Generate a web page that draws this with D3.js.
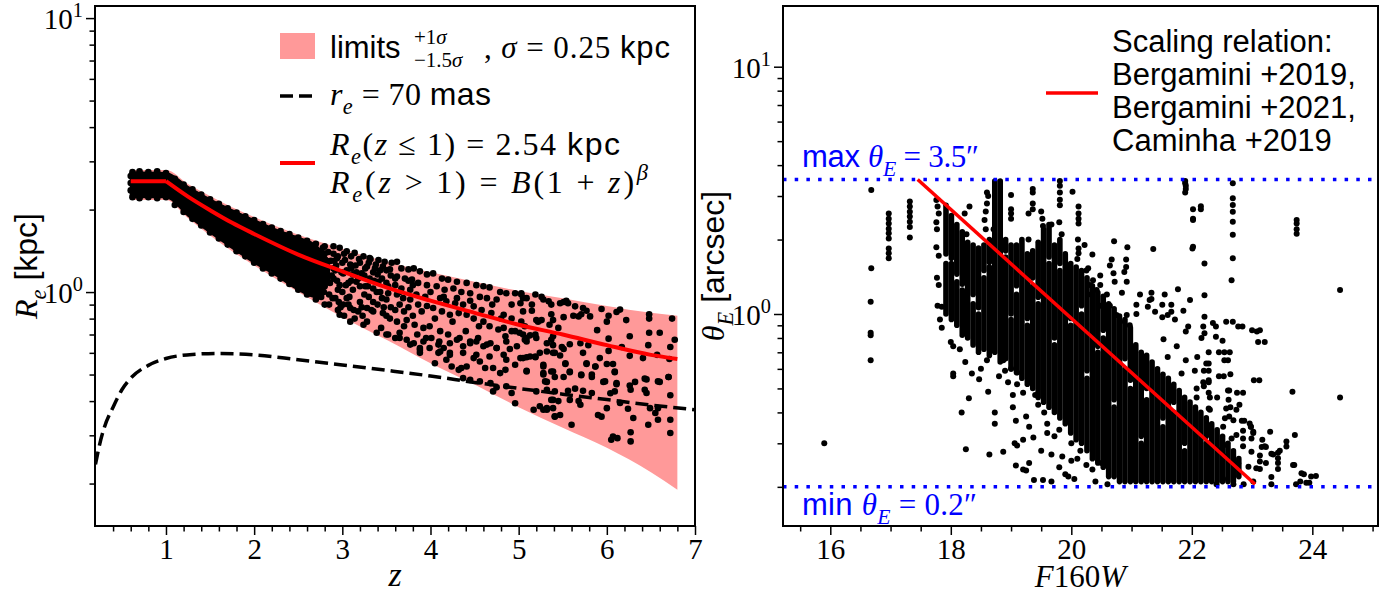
<!DOCTYPE html>
<html>
<head>
<meta charset="utf-8">
<script src="https://cdn.jsdelivr.net/npm/d3@7"></script>
<style>
  body { margin: 0; background: #fff; }
</style>
</head>
<body>
<div id="chart"></div>
<script>
// ---------- left panel: R_e vs z ----------
const bandZ  = [0.6, 1.0, 1.25, 1.5, 1.75, 2.0, 2.5, 3.0, 3.5, 4.0, 4.5, 5.0, 5.5, 6.0, 6.5, 6.8];
const bandHi = [2.79, 2.79, 2.48, 2.24, 2.04, 1.88, 1.62, 1.44, 1.29, 1.18, 1.09, 1.01, 0.95, 0.89, 0.84, 0.82];
const bandLo = [2.17, 2.17, 1.86, 1.61, 1.41, 1.25, 1.0, 0.81, 0.67, 0.55, 0.46, 0.38, 0.32, 0.27, 0.22, 0.19];

const fitZ = [0.6, 1.0, 1.25, 1.5, 1.75, 2.0, 2.5, 3.0, 3.5, 4.0, 4.5, 5.0, 5.5, 6.0, 6.5, 6.8];
const fitR = [2.54, 2.54, 2.23, 1.99, 1.79, 1.63, 1.37, 1.19, 1.04, 0.93, 0.84, 0.76, 0.70, 0.64, 0.59, 0.57];

const masZ = [0.2, 0.25, 0.3, 0.4, 0.5, 0.6, 0.8, 1.0, 1.3, 1.6, 2.0, 2.5, 3.0, 3.5, 4.0, 4.5, 5.0, 5.5, 6.0, 6.5, 7.0];
const masR = [0.235, 0.28, 0.32, 0.38, 0.44, 0.485, 0.54, 0.572, 0.592, 0.597, 0.59, 0.566, 0.542, 0.518, 0.494, 0.468, 0.445, 0.424, 0.405, 0.387, 0.372];

// the solid black bulk of the sample at low z
const coreZ  = [0.6, 1.0, 1.25, 1.5, 1.75, 2.0, 2.25, 2.5, 2.7, 2.85];
const coreHi = [2.74, 2.72, 2.42, 2.18, 1.99, 1.83, 1.69, 1.58, 1.48, 1.3];
const coreLo = [2.22, 2.22, 1.90, 1.65, 1.45, 1.28, 1.15, 1.02, 0.96, 1.1];

const galaxiesZ = [
  [0.6,2.35],[0.6,2.5],[0.6,2.65],[0.62,2.74],[0.7,2.76],[0.8,2.74],[0.9,2.76],[1.0,2.72],[1.1,2.59],[1.2,2.47],[1.3,2.37],[1.4,2.27],
  [1.5,2.18],[1.6,2.1],[1.7,2.02],[1.8,1.95],[1.9,1.89],[2.0,1.83],[2.1,1.77],[2.2,1.72],[2.3,1.67],[2.4,1.63],[2.5,1.58],[2.6,1.54],[2.7,1.5],[2.8,1.47],
  [0.62,2.22],[0.7,2.2],[0.8,2.22],[0.9,2.2],[1.0,2.22],[1.1,2.08],[1.2,1.96],[1.3,1.85],[1.4,1.75],[1.5,1.65],[1.6,1.57],[1.7,1.49],[1.8,1.41],
  [1.9,1.35],[2.0,1.28],[2.1,1.22],[2.2,1.17],[2.3,1.12],[2.4,1.07],[2.5,1.02],[2.6,0.98],[2.7,0.94],[2.8,0.9],
  [2.72,1.1],[2.74,1.3],[2.76,0.96],[2.8,1.38],[2.83,1.12],[2.87,1.3],[2.72,1.22],[2.78,1.45],
  [2.65,1.25],[2.68,1.4],[2.7,1.05],[2.73,1.35],[2.77,1.15],[2.79,1.0],[2.81,1.22],[2.84,1.4],[2.86,1.08],[2.89,0.95],[2.91,1.3],[2.94,1.1],
  [2.96,0.92],[2.99,1.18],[3.02,1.38],[3.04,1.06],[3.07,0.9],[3.1,1.22],[3.13,0.86],[3.16,1.18],[3.19,1.32],[3.23,0.82],[3.26,1.22],[3.29,1.05],
  [3.33,0.86],[3.36,1.1],[3.39,1.0],[3.43,1.2],[3.47,0.88],[3.52,1.05],
  [2.75,1.4],[2.78,1.2],[2.8,1.05],[2.82,1.3],[2.85,0.98],[2.88,1.15],[2.9,1.38],[2.93,1.25],[2.95,1.02],[2.98,0.88],[2.85,0.9],[2.9,1.22],
  [3.0,1.0],[3.05,0.95],[3.1,1.35],[3.12,1.02],[3.2,0.92],[3.18,1.12],[3.25,0.98],[3.3,1.28],[3.35,0.92],[3.4,1.16],[3.45,0.95],[3.5,1.2],
  [3.55,0.88],[3.6,1.12],[3.65,0.9],[3.7,0.85],[3.75,1.1],[3.8,0.82],
  [2.92,1.2],[2.95,1.35],[3.0,1.28],[3.05,1.2],[3.1,1.1],[3.15,1.25],[3.2,1.05],[3.25,1.15],[3.3,0.96],[3.35,1.18],[3.4,0.9],[3.45,1.12],
  [3.5,0.94],[3.55,1.15],[3.6,0.86],[3.65,1.0],[3.7,0.75],[3.75,0.88],[3.8,1.06],[3.85,0.7],[3.9,0.85],[3.95,0.68],[4.0,1.0],[4.05,0.8],
  [4.1,0.66],[4.15,0.96],[4.25,0.78],[4.3,0.95],[4.4,0.72],[4.45,0.93],[4.55,0.75],[4.7,0.9],[4.8,0.8],[4.9,0.62],[2.95,0.86],[3.02,0.82],
  [3.08,0.96],[3.14,0.8],[3.22,0.88],[3.28,0.78],[3.32,1.32],[3.38,1.26],[3.44,0.74],[3.5,0.82],
  [2.9,1.47],[2.97,1.45],[3.05,1.41],[3.14,1.39],[3.24,1.35],[3.31,1.33],[3.41,1.31],[3.48,1.29],[3.56,1.28],[3.62,1.29],[3.67,1.22],[3.75,1.21],
  [3.81,1.22],[3.88,1.19],[3.96,1.16],[4.03,1.17],[4.13,1.12],[4.2,1.11],[4.3,1.09],[4.41,1.08],[4.52,1.06],[4.6,1.05],[4.67,1.04],[4.79,1.0],
  [4.86,0.99],[4.96,0.99],[5.03,0.98],[5.09,0.95],
  [2.94,1.33],[3.03,1.31],[3.09,1.26],[3.2,1.28],[3.28,1.24],[3.37,1.22],[3.46,1.24],[3.54,1.21],[3.62,1.14],[3.71,1.12],[3.79,1.11],[3.86,1.08],
  [3.96,1.06],[4.07,1.05],[4.16,1.02],[4.26,1.03],[4.35,1.0],[4.45,0.99],[4.56,0.96],[4.64,0.95],[4.75,0.94],[4.92,0.9],[5.02,0.91],
  [2.9,1.12],[2.97,1.06],[3.07,1.08],[3.16,1.09],[3.26,1.05],[3.35,1.03],[3.43,1.0],[3.52,0.99],[3.62,0.98],[3.69,0.95],[3.77,0.94],[3.86,0.9],
  [3.96,0.89],[4.03,0.875],[4.13,0.85],[4.22,0.826],[4.32,0.838],[4.41,0.826],[4.49,0.8],[4.6,0.78],[4.67,0.75],[4.77,0.73],[4.83,0.74],
  [4.96,0.72],[5.05,0.7],
  [2.92,0.95],[3.01,0.9],[3.09,0.875],[3.18,0.85],[3.28,0.875],[3.35,0.85],[3.46,0.838],[3.54,0.8],[3.62,0.78],[3.73,0.79],[3.82,0.76],
  [3.92,0.74],[3.99,0.75],[4.11,0.72],[4.2,0.7],[4.33,0.68],[4.45,0.66],[4.54,0.68],[4.64,0.643],[4.75,0.625],[4.86,0.66],[4.98,0.634],[5.09,0.68],
  [2.97,0.826],[3.09,0.78],[3.24,0.76],[3.39,0.71],[3.52,0.7],[3.65,0.68],[3.77,0.643],[3.88,0.615],[3.99,0.625],[4.11,0.607],[4.22,0.59],
  [4.37,0.6],[4.52,0.59],[4.67,0.582],[4.83,0.59],
  [3.01,1.17],[3.12,1.16],[3.22,1.17],[3.31,1.12],[3.41,1.09],[3.5,1.08],[3.6,1.06],[3.67,1.03],[3.77,1.02],[3.84,0.98],[3.94,0.96],[4.11,0.95],
  [4.18,0.925],[4.28,0.91],[4.37,0.9],[4.49,0.887],[4.58,0.86],[4.69,0.838],[4.83,0.826],[4.92,0.8],[5.03,0.78],
  [3.5,0.7],[3.6,0.68],[3.65,0.71],[3.73,0.67],[3.81,0.65],[3.88,0.625],[3.92,0.66],[4.01,0.68],[4.09,0.643],[4.15,0.625],[4.22,0.65],[4.3,0.67],
  [4.37,0.634],[4.45,0.65],[4.52,0.66],[4.6,0.634],[4.68,0.65],[4.75,0.625],[4.85,0.69],[4.92,0.72],[5.01,0.71],[5.09,0.66],[5.2,0.68],[5.32,0.65],
  [5.39,0.69],[3.88,0.6],[4.09,0.6],[4.22,0.6],[4.05,0.55],[4.18,0.566],[4.24,0.535],[4.35,0.528],[4.32,0.52],[4.41,0.535],[4.49,0.574],
  [4.56,0.558],[4.62,0.528],[4.71,0.528],[4.79,0.506],[4.85,0.52],[4.86,0.566],[4.96,0.543],[5.09,0.513],[5.05,0.574],[5.19,0.582],[5.28,0.535],
  [5.37,0.513],[5.41,0.6],[4.37,0.485],[4.45,0.478],[4.56,0.472],[4.68,0.465],[4.75,0.449],[4.86,0.453],[4.92,0.428],[4.71,0.434],[4.96,0.393],
  [5.2,0.434],[5.17,0.372],[5.24,0.383],[5.32,0.372],[5.39,0.377],[5.37,0.404],[5.41,0.352],
  [5.03,0.99],[5.05,0.95],[5.19,0.98],[5.26,0.96],[5.28,0.94],[5.34,0.925],[5.37,0.9],[5.47,0.91],[5.51,0.92],[5.54,0.93],[5.56,0.91],[5.64,0.887],
  [5.73,0.875],[5.77,0.855],[5.71,0.83],[5.68,0.815],[5.62,0.82],[5.81,0.815],[5.94,0.867],[6.02,0.82],[6.11,0.846],[6.15,0.863],[6.22,0.79],
  [6.48,0.83],[6.48,0.8],[6.74,0.8],[5.15,0.9],[5.15,0.855],[5.05,0.85],[5.2,0.79],[5.26,0.79],[5.37,0.83],[5.39,0.79],[5.51,0.81],[5.45,0.74],
  [5.35,0.76],[5.89,0.726],[6.0,0.78],[6.02,0.676],[6.26,0.69],[6.48,0.71],[6.6,0.71],[6.77,0.67],[6.72,0.63],[6.47,0.64],[6.17,0.63],[5.79,0.64],
  [5.7,0.65],[5.58,0.645],[5.49,0.63],[5.51,0.62],[5.39,0.64],[5.37,0.67],[5.13,0.695],[5.07,0.67],[5.19,0.7],[5.07,0.75],[5.22,0.78],
  [5.02,0.574],[5.09,0.578],[5.13,0.582],[5.19,0.578],[5.24,0.6],[5.32,0.607],[5.39,0.6],[5.47,0.587],[5.73,0.6],[5.92,0.574],[5.77,0.546],
  [5.87,0.535],[6.0,0.546],[6.07,0.546],[6.09,0.51],[6.02,0.61],[6.26,0.585],[6.41,0.574],[6.57,0.59],[6.71,0.57],[5.53,0.546],[5.28,0.543],
  [5.28,0.5],[5.09,0.516],[5.39,0.513],[5.41,0.49],[5.58,0.51],[5.71,0.497],[5.83,0.49],[5.96,0.47],[6.11,0.465],[6.32,0.47],[6.45,0.48],
  [6.6,0.47],[6.7,0.49],[5.32,0.47],
  [5.28,0.506],[5.53,0.55],[5.51,0.49],[5.58,0.513],[5.71,0.5],[5.77,0.55],[5.83,0.5],[5.87,0.535],[6.09,0.513],[5.98,0.472],[6.11,0.461],
  [6.09,0.434],[6.04,0.427],[6.26,0.456],[6.27,0.44],[6.43,0.483],[6.58,0.472],[6.7,0.49],[6.43,0.44],[6.45,0.428],[6.72,0.42],[5.3,0.472],
  [5.32,0.44],[5.41,0.434],[5.56,0.436],[5.64,0.444],[5.73,0.436],[5.83,0.428],[5.39,0.404],[5.45,0.4],[5.58,0.404],[5.68,0.4],[5.7,0.388],
  [5.32,0.377],[5.28,0.372],[5.41,0.351],[5.47,0.356],[5.6,0.328],[5.9,0.356],[5.94,0.351],[6.0,0.377],[6.15,0.394],[6.24,0.375],[6.3,0.347],
  [6.49,0.377],[6.58,0.377],[6.55,0.362],[6.58,0.342],[6.47,0.328],[6.72,0.342],[6.72,0.306],[6.07,0.297],[6.05,0.289],[6.12,0.293],
  [6.27,0.308],[6.27,0.285]
];

// ---------- right panel: theta_E vs F160W ----------
const scaleMag = [17.45, 23.05];
const scaleTheta = [3.5, 0.205];
const thetaMax = 3.5;
const thetaMin = 0.2;

// dense vertical stacks of the bulk population: [mag, theta low, theta high]
const bulkStacks = [
  [17.92,1.0,1.6],[17.92,1.75,2.75],[18.01,0.95,1.6],[18.01,1.68,2.5],[18.1,0.9,1.35],[18.1,1.45,2.3],[18.19,0.82,1.25],
  [18.19,1.32,2.15],[18.28,0.8,1.95],[18.37,0.75,1.1],[18.37,1.2,1.9],[18.46,0.7,1.0],[18.46,1.06,1.85],[18.55,0.72,1.4],
  [18.55,1.5,1.9],[18.64,0.68,1.55],[18.64,1.62,2.0],[18.73,0.7,3.45],[18.82,0.64,3.45],[18.91,0.66,1.7],[18.91,1.8,2.0],
  [19.0,0.6,0.95],[19.0,1.0,1.9],[19.09,0.58,1.2],[19.09,1.3,1.9],[19.18,0.55,2.0],[19.27,0.52,0.9],[19.27,0.96,1.75],
  [19.36,0.5,1.3],[19.36,1.4,1.8],[19.45,0.46,1.1],[19.45,1.17,1.95],[19.54,0.44,2.2],[19.63,0.42,1.6],[19.63,1.7,2.3],
  [19.72,0.4,0.75],[19.72,0.8,1.9],[19.81,0.38,1.5],[19.81,1.6,2.0],[19.9,0.36,1.75],[19.99,0.33,0.9],[19.99,0.96,1.6],
  [20.08,0.31,1.55],[20.17,0.3,1.0],[20.17,1.08,1.5],[20.26,0.28,0.55],[20.26,0.59,1.4],[20.35,0.26,1.3],[20.44,0.25,0.7],
  [20.44,0.74,1.22],[20.53,0.24,0.8],[20.53,0.86,1.18],[20.62,0.22,1.1],[20.71,0.22,0.42],[20.71,0.45,1.05],[20.8,0.21,0.98],
  [20.89,0.21,0.6],[20.89,0.66,0.95],[20.98,0.21,0.5],[20.98,0.54,0.88],[21.07,0.21,0.75],[21.16,0.21,0.3],[21.16,0.32,0.7],
  [21.25,0.21,0.45],[21.25,0.5,0.68],[21.34,0.21,0.64],[21.43,0.21,0.6],[21.52,0.21,0.35],[21.52,0.38,0.57],[21.61,0.21,0.55],
  [21.7,0.21,0.4],[21.7,0.44,0.52],[21.79,0.21,0.49],[21.88,0.21,0.28],[21.88,0.3,0.46],[21.97,0.21,0.44],[22.06,0.21,0.42],
  [22.15,0.21,0.4],[22.24,0.21,0.3],[22.24,0.32,0.38],[22.33,0.21,0.36],[22.42,0.21,0.34],[22.51,0.21,0.32],[22.6,0.21,0.3],
  [22.69,0.21,0.28],[22.78,0.22,0.26]
];

const galaxiesMag = [
  [15.9,0.3],[16.68,3.17],[16.68,1.53],[16.67,1.12],[16.67,0.84],[16.67,0.82],[16.67,0.65],
  [16.97,2.55],[16.97,2.43],[16.97,2.32],[16.97,2.21],[16.97,2.12],[16.97,2.02],[16.97,1.84],[16.97,1.76],[16.97,1.68],
  [17.32,2.85],[17.32,2.72],[17.32,2.59],[17.32,2.48],[17.32,2.36],[17.32,2.25],[17.32,2.04],
  [17.76,2.89],[17.78,2.72],[17.8,2.55],[17.76,2.35],[17.77,2.2],[17.76,1.86],[17.8,1.72],[17.77,1.4],[17.8,1.31],[17.78,1.08],
  [17.85,1.07],[17.82,0.95],[17.85,0.88],
  [18.6,3.1],[18.6,2.8],[18.62,3.0],[18.58,2.6],[18.56,2.4],[18.58,2.2],[18.71,2.2],[18.23,2.55],[18.31,2.72],[18.26,2.1],
  [19.0,3.03],[19.0,2.65],[19.0,2.55],[19.0,2.43],[19.36,3.2],[19.36,3.1],[19.36,2.8],[19.36,2.65],[19.29,2.55],[19.29,2.0],
  [19.5,2.6],[19.52,2.43],[19.53,2.27],[19.67,2.3],[19.81,3.45],[19.81,3.3],[19.81,3.1],[19.81,2.9],[19.81,2.75],[19.8,2.35],[19.84,2.1],
  [20.02,3.12],[20.12,2.72],[20.12,2.55],[20.12,2.43],[20.12,2.32],[20.11,2.0],[20.12,1.84],[20.12,1.76],[20.1,1.67],
  [20.22,1.9],[20.25,1.5],[20.35,1.74],
  [21.89,3.45],[21.89,3.38],[21.9,3.3],[21.9,3.2],[21.89,3.1],[22.02,2.65],[22.02,2.43],[22.02,1.87],[22.15,2.73],[22.15,2.65],
  [22.21,1.6],[22.21,1.19],[21.36,1.83],[20.71,1.97],[20.93,1.86],
  [21.77,1.26],[21.55,1.2],[21.33,1.22],[21.33,1.15],[21.14,1.2],[21.86,1.03],[21.66,1.02],[21.51,1.09],[21.51,0.97],[21.94,0.89],
  [22.19,0.89],[21.08,1.09],[21.08,1.0],[21.3,1.14],[21.66,1.09],[21.97,1.14],
  [20.91,1.66],[20.91,1.55],[20.88,1.48],[20.92,1.35],[20.84,1.22],[20.67,1.66],[20.64,1.57],[20.7,1.46],[20.72,1.35],
  [20.28,1.53],[20.48,1.43],[20.36,1.37],[20.31,1.31],[20.48,1.31],[20.42,1.25],[20.28,1.2],[20.48,1.08],[20.59,1.2],[20.64,1.08],
  [20.75,0.99],[20.56,1.02],[20.81,0.93],[20.92,0.99],[20.97,0.9],
  [22.68,3.38],[22.68,2.94],[22.68,2.76],[22.68,2.59],[22.68,2.36],[22.68,2.09],[22.68,1.68],[22.66,1.37],[22.68,0.93],
  [22.02,2.4],[22.01,1.84],[23.74,2.4],[23.74,2.32],[23.74,2.2],[23.74,2.11],
  [24.46,1.25],[24.46,0.46],[23.67,0.485],[23.71,0.324],[23.57,0.305],[23.57,0.291],[23.82,0.227],[24.06,0.221],[23.9,0.208],
  [23.95,0.208],[23.73,0.205],[23.7,0.245],[23.43,0.275],[23.43,0.261],[23.43,0.25],[23.43,0.236],[23.32,0.272],[23.32,0.219],
  [23.21,0.292],[23.3,0.334],[23.13,0.268],[23.13,0.236],[23.32,0.205],[23.12,0.54],[23.13,0.86],[23.08,0.85],[23.21,0.77],
  [22.84,0.89],[22.4,0.89],[22.4,0.81],[22.21,0.975],[22.21,0.835],[22.51,0.78],[22.54,0.7],[22.54,0.65],[22.63,0.7],[22.28,0.7],
  [22.28,0.63],[22.09,0.67],[22.53,0.56],[22.64,0.57],[22.28,0.59],[22.28,0.54],[22.28,0.53],[22.28,0.48],[22.28,0.415],[22.19,0.53],
  [22.08,0.5],[22.08,0.46],[22.85,0.48],[22.62,0.49],[22.61,0.45],[22.57,0.415],[22.79,0.43],[22.74,0.41],[22.3,0.46],[22.3,0.41],
  [22.55,0.379],[22.69,0.372],[22.83,0.37],[22.96,0.361],[22.98,0.35],[23.02,0.334],[22.85,0.337],[22.85,0.314],[22.99,0.314],
  [22.85,0.292],[22.99,0.277],[23.13,0.253],[23.07,0.238],[22.94,0.241],[22.77,0.249],[22.55,0.265],[22.49,0.282],[22.58,0.295],
  [22.66,0.314],[22.52,0.35],[22.62,0.385],[22.74,0.324],[22.52,0.215],[22.69,0.205],[22.86,0.205],[23.02,0.21],[22.41,0.205],[23.16,0.29],
  [22.35,0.92],[22.57,0.93],[22.77,0.89],[23.0,0.86],[23.1,0.77],[23.03,0.54],[22.45,0.7],[22.6,0.65],[22.45,0.56],[22.6,0.49],
  [22.75,0.48],[22.24,0.63],[22.2,0.59],[21.9,0.65],[22.05,0.59],[22.16,0.8],[21.9,0.85],[21.72,0.95],[21.6,0.99],[21.39,1.02],
  [21.27,1.07],[21.75,0.74],[21.53,0.79],[21.83,0.575],[21.6,0.67],[22.2,0.51],[22.42,0.46],[22.64,0.42],[22.87,0.37],[22.98,0.35],
  [23.02,0.33],[23.17,0.31],[23.23,0.29],[23.35,0.27],[23.46,0.28],[23.23,0.25],[23.68,0.245],[23.86,0.225],[23.98,0.22],[23.8,0.21],
  [18.04,0.575],[18.04,0.56],[18.18,0.4],[18.25,0.284],[18.3,0.456],[18.47,0.545],[18.24,0.64],[18.64,0.27],[18.73,0.4],[18.73,0.36],
  [18.62,0.485],[18.87,0.277],[19.03,0.42],[19.08,0.37],[19.08,0.244],[19.2,0.235],[19.3,0.25],[19.25,0.233],[19.38,0.213],
  [19.53,0.213],[19.67,0.21],[19.1,0.294],[19.2,0.31],[19.06,0.3],[19.25,0.385],[19.3,0.35],[19.37,0.317],[19.03,0.47],[19.2,0.48],
  [19.1,0.52],[19.1,0.58],[19.0,0.6],[18.9,0.59],[18.95,0.53],[18.8,0.56],[18.87,0.65],[18.6,0.65],[18.5,0.6],[18.35,0.575],
  [18.0,0.77],[18.15,0.72],[18.04,0.74],[19.5,0.28],[19.67,0.27],[19.85,0.265],[20.0,0.255],[20.1,0.26],[20.25,0.245],[19.8,0.24],
  [19.95,0.22],[20.35,0.235],[20.5,0.25],[19.9,0.225],[20.05,0.215],[20.4,0.21],[20.6,0.205],[19.72,0.32],[19.6,0.36],[19.55,0.4],
  [19.45,0.43],[19.8,0.34],[20.0,0.3],[20.15,0.28],[19.4,0.47],[19.6,0.33]
];

// tick values
const zTicks = [1, 2, 3, 4, 5, 6, 7];
const zMinor = [0.4, 0.6, 0.8, 1.2, 1.4, 1.6, 1.8, 2.2, 2.4, 2.6, 2.8, 3.2, 3.4, 3.6, 3.8, 4.2, 4.4, 4.6, 4.8,
                5.2, 5.4, 5.6, 5.8, 6.2, 6.4, 6.6, 6.8];
const magTicks = [16, 18, 20, 22, 24];
const magMinor = [15.5, 16.5, 17, 17.5, 18.5, 19, 19.5, 20.5, 21, 21.5, 22.5, 23, 23.5, 24.5, 25];
const logMajor = [1, 10];
const logMinor = [0.2, 0.3, 0.4, 0.5, 0.6, 0.7, 0.8, 0.9, 2, 3, 4, 5, 6, 7, 8, 9];

const SANS = "'Liberation Sans', Arial, sans-serif";
const SERIF = "'Liberation Serif', 'Times New Roman', serif";

const width = 1400, height = 595;
const svg = d3.select('#chart').append('svg')
  .attr('width', width)
  .attr('height', height)
  .style('display', 'block');

// math-like text built from tspans: S sans, R roman, I italic, ..b subscript, ..p superscript
function rich(g, x, y, parts, size, opts = {}) {
  const t = g.append('text').attr('x', x).attr('y', y).style('font-size', size + 'px');
  let cur = 0;
  parts.forEach(([s, k]) => {
    const sp = t.append('tspan').text(s);
    sp.style('font-family', k === 'S' ? SANS : SERIF);
    if (k.startsWith('I')) sp.style('font-style', 'italic');
    let shift = 0, fs = size;
    if (k.endsWith('b')) { shift = size * 0.28; fs = size * 0.7; }
    if (k.endsWith('p')) { shift = -size * 0.42; fs = size * 0.7; }
    sp.style('font-size', fs + 'px');
    if (shift !== cur) { sp.attr('dy', shift - cur); cur = shift; }
  });
  if (opts.len) t.attr('textLength', opts.len).attr('lengthAdjust', 'spacing');
  if (opts.anchor) t.attr('text-anchor', opts.anchor);
  t.attr('fill', opts.fill || '#000');
  return t;
}

function drawAxes(g, box, x, y, xMajor, xMinor) {
  const yMinor = logMinor.filter(v => v >= y.domain()[0] && v <= y.domain()[1]);
  g.append('g').attr('transform', `translate(0,${box.bottom})`)
    .call(d3.axisBottom(x).tickValues(xMinor).tickSize(5.5).tickFormat(''));
  const bx = g.append('g').attr('transform', `translate(0,${box.bottom})`)
    .call(d3.axisBottom(x).tickValues(xMajor).tickSize(9).tickPadding(3).tickFormat(d3.format('d')));
  bx.attr('font-family', SERIF).attr('font-size', 29);
  g.append('g').attr('transform', `translate(${box.left},0)`)
    .call(d3.axisLeft(y).tickValues(yMinor).tickSize(5.5).tickFormat(''));
  g.append('g').attr('transform', `translate(${box.left},0)`)
    .call(d3.axisLeft(y).tickValues(logMajor).tickSize(9).tickFormat(''));
  g.selectAll('.domain').remove();
  g.selectAll('.tick line').attr('stroke', '#000').attr('stroke-width', 1.5);
  bx.selectAll('text').style('font-family', SERIF).style('font-size', '29px').attr('fill', '#000');
  logMajor.forEach((v, i) => {
    rich(g, box.left - 12, y(v) + 11, [['10', 'R'], [String(i), 'Rp']], 29, { anchor: 'end' });
  });
  g.append('rect')
    .attr('x', box.left).attr('y', box.top)
    .attr('width', box.right - box.left).attr('height', box.bottom - box.top)
    .attr('fill', 'none').attr('stroke', '#000').attr('stroke-width', 2);
}

// ================= left =================
const L = { left: 95, right: 695, top: 6, bottom: 526 };
const xL = d3.scaleLinear().domain([0.195, 7]).range([L.left, L.right]);
const yL = d3.scaleLog().domain([0.14, 11.07]).range([L.bottom, L.top]);

const defs = svg.append('defs');
const gL = svg.append('g');
defs.append('clipPath').attr('id', 'clipL')
  .append('rect').attr('x', L.left).attr('y', L.top).attr('width', L.right - L.left).attr('height', L.bottom - L.top);
const plotL = gL.append('g').attr('clip-path', 'url(#clipL)');

plotL.append('path')
  .datum(bandZ.map((z, i) => [z, bandLo[i], bandHi[i]]))
  .attr('fill', '#ff9999')
  .attr('d', d3.area().x(d => xL(d[0])).y0(d => yL(d[1])).y1(d => yL(d[2])).curve(d3.curveMonotoneX));

plotL.append('path')
  .datum(coreZ.map((z, i) => [z, coreLo[i], coreHi[i]]))
  .attr('fill', '#000').attr('stroke', '#000').attr('stroke-width', 2).attr('stroke-linejoin', 'round')
  .attr('d', d3.area().x(d => xL(d[0])).y0(d => yL(d[1])).y1(d => yL(d[2])).curve(d3.curveMonotoneX));

plotL.selectAll('.dot')
  .data(galaxiesZ)
  .enter()
  .append('circle')
  .attr('class', 'dot')
  .attr('cx', d => xL(d[0]))
  .attr('cy', d => yL(d[1]))
  .attr('r', 3.3)
  .attr('fill', '#000');

plotL.append('path')
  .datum(masZ.map((z, i) => [z, masR[i]]))
  .attr('fill', 'none').attr('stroke', '#000').attr('stroke-width', 3.5).attr('stroke-dasharray', '13,6')
  .attr('d', d3.line().x(d => xL(d[0])).y(d => yL(d[1])).curve(d3.curveMonotoneX));

const fitPts = fitZ.map((z, i) => [z, fitR[i]]);
const fitLine = d3.line().x(d => xL(d[0])).y(d => yL(d[1]));
plotL.append('path').datum(fitPts.slice(0, 2))
  .attr('fill', 'none').attr('stroke', '#ff0000').attr('stroke-width', 4)
  .attr('d', fitLine);
plotL.append('path').datum(fitPts.slice(1))
  .attr('fill', 'none').attr('stroke', '#ff0000').attr('stroke-width', 4)
  .attr('d', fitLine.curve(d3.curveMonotoneX));

drawAxes(gL, L, xL, yL, zTicks, zMinor);

// legend (left)
gL.append('rect').attr('x', 280).attr('y', 33).attr('width', 35).attr('height', 26).attr('fill', '#ff9999');
rich(gL, 330, 58, [['limits', 'S']], 31);
rich(gL, 414, 44, [['+1', 'R'], ['σ', 'I']], 21);
rich(gL, 414, 67, [['−1.5', 'R'], ['σ', 'I']], 21);
rich(gL, 484, 58, [[',\u00a0', 'R'], ['σ', 'I'], ['\u00a0=\u00a00.25\u00a0', 'R'], ['kpc', 'S']], 31, { len: 186 });

gL.append('line').attr('x1', 280).attr('x2', 315).attr('y1', 96).attr('y2', 96)
  .attr('stroke', '#000').attr('stroke-width', 3.5).attr('stroke-dasharray', '13,6');
rich(gL, 330, 105, [['r', 'I'], ['e', 'Ib'], ['\u00a0=\u00a070\u00a0', 'R'], ['mas', 'S']], 32, { len: 161 });

gL.append('line').attr('x1', 280).attr('x2', 315).attr('y1', 163).attr('y2', 163)
  .attr('stroke', '#ff0000').attr('stroke-width', 4);
rich(gL, 330, 155, [['R', 'I'], ['e', 'Ib'], ['(', 'R'], ['z', 'I'], ['\u00a0≤\u00a01)\u00a0=\u00a02.54\u00a0', 'R'], ['kpc', 'S']], 32, { len: 290 });
rich(gL, 330, 193, [['R', 'I'], ['e', 'Ib'], ['(', 'R'], ['z', 'I'], ['\u00a0>\u00a01)\u00a0=\u00a0', 'R'], ['B', 'I'],
  ['(1\u00a0+\u00a0', 'R'], ['z', 'I'], [')', 'R'], ['β', 'Ip']], 32, { len: 318 });

// axis titles (left)
rich(gL, (L.left + L.right) / 2, 586, [['z', 'I']], 34, { anchor: 'middle' });
const tyL = gL.append('g').attr('transform', `translate(37,${(L.top + L.bottom) / 2}) rotate(-90)`);
rich(tyL, 0, 0, [['R', 'I'], ['e', 'Ib'], ['\u00a0[kpc]', 'S']], 32, { anchor: 'middle' });

// ================= right =================
const R = { left: 783, right: 1378, top: 6, bottom: 526 };
const xR = d3.scaleLinear().domain([15.215, 25.09]).range([R.left, R.right]);
const yR = d3.scaleLog().domain([0.1389, 17.6]).range([R.bottom, R.top]);

const gR = svg.append('g');
defs.append('clipPath').attr('id', 'clipR')
  .append('rect').attr('x', R.left).attr('y', R.top).attr('width', R.right - R.left).attr('height', R.bottom - R.top);
const plotR = gR.append('g').attr('clip-path', 'url(#clipR)');

plotR.selectAll('.stack')
  .data(bulkStacks)
  .enter()
  .append('line')
  .attr('class', 'stack')
  .attr('x1', d => xR(d[0])).attr('x2', d => xR(d[0]))
  .attr('y1', d => yR(d[1])).attr('y2', d => yR(d[2]))
  .attr('stroke', '#000').attr('stroke-width', 5.6).attr('stroke-linecap', 'round');

plotR.selectAll('.dot')
  .data(galaxiesMag)
  .enter()
  .append('circle')
  .attr('class', 'dot')
  .attr('cx', d => xR(d[0]))
  .attr('cy', d => yR(d[1]))
  .attr('r', 3.0)
  .attr('fill', '#000');

plotR.append('path')
  .datum(scaleMag.map((m, i) => [m, scaleTheta[i]]))
  .attr('fill', 'none').attr('stroke', '#ff0000').attr('stroke-width', 3.5)
  .attr('d', d3.line().x(d => xR(d[0])).y(d => yR(d[1])));

[thetaMax, thetaMin].forEach(v => {
  plotR.append('line')
    .attr('x1', R.left).attr('x2', R.right).attr('y1', yR(v)).attr('y2', yR(v))
    .attr('stroke', '#0000ff').attr('stroke-width', 3.5).attr('stroke-dasharray', '3.5,8.2');
});

drawAxes(gR, R, xR, yR, magTicks, magMinor);

rich(gR, 802, yR(thetaMax) - 12, [['max\u00a0', 'S'], ['θ', 'I'], ['E', 'Ib'], ['\u00a0=\u00a03.5″', 'R']], 31, { fill: '#0000ff', len: 177 });
rich(gR, 802, yR(thetaMin) + 28, [['min\u00a0', 'S'], ['θ', 'I'], ['E', 'Ib'], ['\u00a0=\u00a00.2″', 'R']], 31, { fill: '#0000ff', len: 175 });

// legend (right)
gR.append('line').attr('x1', 1046).attr('x2', 1098).attr('y1', 93).attr('y2', 93)
  .attr('stroke', '#ff0000').attr('stroke-width', 3.5);
['Scaling relation:', 'Bergamini +2019,', 'Bergamini +2021,', 'Caminha +2019'].forEach((s, i) => {
  rich(gR, 1112, 52 + i * 33, [[s, 'S']], 31);
});

// axis titles (right)
rich(gR, (R.left + R.right) / 2, 587, [['F', 'I'], ['160', 'R'], ['W', 'I']], 31, { anchor: 'middle' });
const tyR = gR.append('g').attr('transform', `translate(724,${(R.top + R.bottom) / 2}) rotate(-90)`);
rich(tyR, 0, 0, [['θ', 'I'], ['E', 'Ib'], ['\u00a0[arcsec]', 'S']], 32, { anchor: 'middle' });
</script>
</body>
</html>
